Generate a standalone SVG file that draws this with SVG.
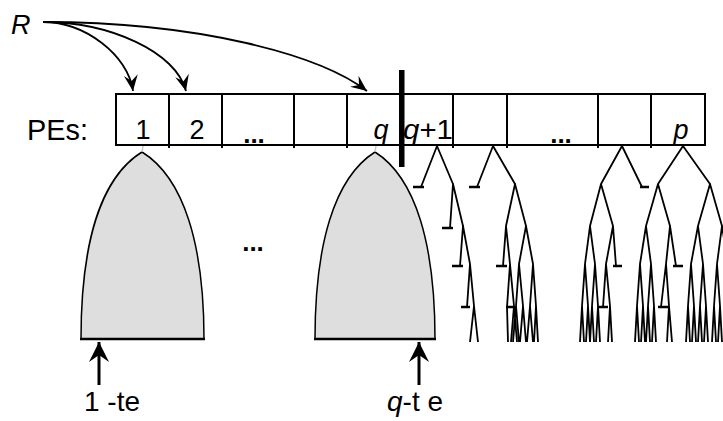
<svg xmlns="http://www.w3.org/2000/svg" width="723" height="421" viewBox="0 0 723 421">
<style>
.t{font-family:"Liberation Sans",Arial,sans-serif;fill:#000}
.i{font-style:italic}
.d{font-family:"Liberation Sans",Arial,sans-serif;font-weight:bold;fill:#000;font-size:26px;text-anchor:middle}
.box{fill:#fff;stroke:#000;stroke-width:2}
.div{stroke:#000;stroke-width:2}
.dome{fill:#dedede;stroke:#000;stroke-width:1.5}
.base{stroke:#000;stroke-width:2.5}
.tree{fill:none;stroke:#000;stroke-width:1.8;stroke-linejoin:round}
.bar{fill:none;stroke:#000;stroke-width:2.5}
.conn{fill:none;stroke:#000;stroke-width:1.8}
.up{fill:none;stroke:#000;stroke-width:3}
.link{stroke:#c8c8c8;stroke-width:1.5}
</style>
<defs>
<marker id="ah" markerUnits="userSpaceOnUse" markerWidth="20" markerHeight="16" refX="0" refY="0" viewBox="-17 -8 19 16" orient="auto">
<path d="M0,0 L-16,-7 L-10,0 L-16,7 Z" fill="#000"/>
</marker>
<marker id="ah2" markerUnits="userSpaceOnUse" markerWidth="24" markerHeight="22" refX="0" refY="0" viewBox="-21 -11 23 22" orient="auto">
<path d="M0,0 L-20,-10 L-13,0 L-20,10 Z" fill="#000"/>
</marker>
</defs>

<g id="label-R"><text class="t i" x="11" y="34" font-size="27">R</text></g>
<g id="label-PEs"><text class="t" x="27" y="140" font-size="30" textLength="61" lengthAdjust="spacingAndGlyphs">PEs:</text></g>

<g id="pe-row">
<rect class="box" x="116" y="94" width="589" height="51"/>
<path class="div" d="M169,94V148M222,94V148M294,94V148M347,94V148M453,94V148M507,94V148M598,94V148M651,94V148"/>
</g>
<g id="pe-1"><text class="t" x="143" y="139" font-size="27" text-anchor="middle">1</text></g>
<g id="pe-2"><text class="t" x="197" y="139" font-size="27" text-anchor="middle">2</text></g>
<g id="pe-dots1"><text class="d" x="254" y="143">...</text></g>
<g id="pe-q"><text class="t i" x="381" y="139" font-size="27" text-anchor="middle">q</text></g>
<g id="pe-q1"><text class="t" x="403" y="139" font-size="27" textLength="50" lengthAdjust="spacingAndGlyphs"><tspan class="i">q</tspan>+1</text></g>
<g id="pe-dots2"><text class="d" x="561" y="143">...</text></g>
<g id="pe-p"><text class="t i" x="681" y="139" font-size="27" text-anchor="middle">p</text></g>
<g id="divider"><rect x="399" y="70" width="5.5" height="97" fill="#000"/></g>

<g id="dome-1">
<path class="dome" d="M81,339 C81,245 100,178 142,152 C184,178 204,245 204,339 Z"/>
<line class="base" x1="80" y1="339" x2="205" y2="339"/>
</g>
<g id="dome-dots"><text class="d" x="253" y="251">...</text></g>
<g id="dome-q">
<path class="dome" d="M315,339 C315,245 334,178 375,152 C416,178 435,245 435,339 Z"/>
<line class="base" x1="314" y1="339" x2="436" y2="339"/>
</g>

<g id="tree-q1">
<path class="tree" d="M437,146 L421,187 M437,146 L453,184 L450,228 M453,184 L463,226 L460,266 M463,226 L470,264 L467,307 M470,264 L474,306 L470,342 M474,306 L478,342"/>
<path class="bar" d="M413,187 H424 M442,228 H453 M452,266 H463 M461,307 H470"/>
</g>
<g id="tree-q2">
<path class="tree" d="M493,146 L477,187 M493,146 L515,184 L506,226 L503,266 M506,226 L510,264 L507,307 L508,342 M510,264 L514,306 L511,342 M514,306 L517,342 M515,184 L526,226 L519,264 L516,306 L513,342 M516,306 L519,342 M519,264 L523,306 L520,342 M523,306 L526,342 M526,226 L533,264 L530,306 L527,342 M530,306 L533,342 M533,264 L536,306 L534,342 M536,306 L538,342"/>
<path class="bar" d="M469,187 H480 M496,266 H507 M506,307 H515"/>
</g>
<g id="tree-p1">
<path class="tree" d="M622,146 L601,184 L590,226 L585,264 L582,306 L580,342 M582,306 L584,342 M585,264 L588,306 L586,342 M588,306 L590,342 M590,226 L595,264 L592,306 L590,342 M592,306 L594,342 M595,264 L598,306 L596,342 M598,306 L600,342 M601,184 L613,226 L606,264 L603,307 M606,264 L610,306 L608,342 M610,306 L612,342 M613,226 L616,266 M622,146 L642,187"/>
<path class="bar" d="M640,187 H649 M613,266 H622 M598,307 H608"/>
</g>
<g id="tree-p">
<path class="tree" d="M683,146 L658,184 L646,226 L640,264 L637,306 L635,342 M637,306 L639,342 M640,264 L643,306 L641,342 M643,306 L645,342 M646,226 L651,264 L648,306 L646,342 M648,306 L650,342 M651,264 L654,306 L652,342 M654,306 L656,342 M658,184 L670,226 L666,264 L661,307 M666,264 L669,306 L667,342 M669,306 L672,342 M670,226 L676,266 M683,146 L710,184 L698,226 L691,264 L688,306 L686,342 M688,306 L690,342 M691,264 L694,306 L692,342 M694,306 L696,342 M698,226 L703,264 L700,306 L698,342 M700,306 L702,342 M703,264 L706,306 L704,342 M706,306 L708,342 M710,184 L722,226 L717,264 L714,306 L712,342 M714,306 L716,342 M717,264 L720,306 L718,342 M720,306 L722,342 M722,226 L728,264"/>
<path class="bar" d="M658,307 H668 M673,266 H683"/>
</g>

<g id="label-1te"><text class="t" x="84" y="411" font-size="28">1 -te</text></g>
<g id="label-qte"><text class="t" x="387" y="411" font-size="28"><tspan class="i">q</tspan>-t e</text></g>

<g id="connectors">
<line class="link" x1="143" y1="146" x2="142" y2="152"/>
<line class="link" x1="376" y1="146" x2="375" y2="152"/>
<path class="conn" marker-end="url(#ah)" d="M43,22 C85,22 128,55 133,91"/>
<path class="conn" marker-end="url(#ah)" d="M43,22 C110,22 176,52 186,91"/>
<path class="conn" marker-end="url(#ah)" d="M43,22 C200,22 320,55 367,91"/>
<path class="up" marker-end="url(#ah2)" d="M99,385 V342"/>
<path class="up" marker-end="url(#ah2)" d="M419,385 V342"/>
</g>
</svg>
